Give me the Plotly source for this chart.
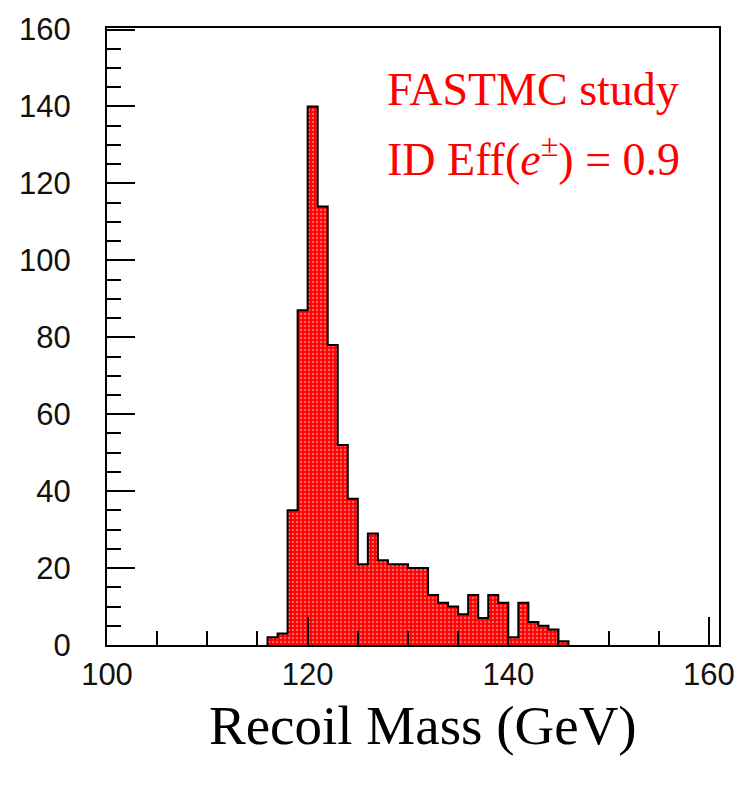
import plotly.graph_objects as go

# Histogram data (1 GeV bins), left bin edges and counts
bin_left = [116, 117, 118, 119, 120, 121, 122, 123, 124, 125, 126, 127, 128, 129, 130,
            131, 132, 133, 134, 135, 136, 137, 138, 139, 140, 141, 142, 143, 144, 145]
counts = [2, 3, 35, 87, 140, 114, 78, 52, 38, 21, 29, 22, 21, 21, 20,
          20, 13, 11, 10, 8, 13, 7, 13, 11, 2, 11, 6, 5, 4, 1]
bin_width = 1.0

x_ticks = [100, 120, 140, 160]
y_ticks = [0, 20, 40, 60, 80, 100, 120, 140, 160]

title_text = "Recoil Mass (GeV)"
note1 = "FASTMC study"
note2 = "ID Eff(<i>e</i><sup>±</sup>) = 0.9"

centers = [b + bin_width / 2 for b in bin_left]

fig = go.Figure()
fig.add_trace(go.Bar(
    x=centers, y=counts, width=bin_width,
    marker=dict(color="#ff0000", line=dict(width=0),
                pattern=dict(shape=".", fgcolor="#ffc4c4", size=4, solidity=0.3)),
    hoverinfo="skip", showlegend=False,
))

# step outline
xs = [bin_left[0]] + bin_left + [bin_left[-1] + bin_width]
ys = [0] + counts + [0]
fig.add_trace(go.Scatter(
    x=xs, y=ys, mode="lines", line=dict(color="black", width=2, shape="hv"),
    hoverinfo="skip", showlegend=False,
))

tickfont = dict(family="Liberation Sans, Arial, sans-serif", size=31, color="#111111")
serif = "Liberation Serif, Times New Roman, serif"

fig.update_layout(
    width=747, height=788,
    margin=dict(l=107, r=22, t=26, b=143),
    plot_bgcolor="white", paper_bgcolor="white",
    bargap=0,
    xaxis=dict(range=[100, 161], tickvals=x_ticks, ticks="inside", ticklen=28, tickwidth=2,
               tickcolor="black", showline=True, linecolor="black", linewidth=2, mirror=True,
               showgrid=False, zeroline=False, tickfont=tickfont, ticklabelstandoff=1,
               minor=dict(dtick=5, tick0=100, ticks="inside", ticklen=14, tickwidth=2, tickcolor="black", showgrid=False)),
    yaxis=dict(range=[0, 160.4], tickvals=y_ticks, ticks="inside", ticklen=28, tickwidth=2,
               tickcolor="black", showline=True, linecolor="black", linewidth=2, mirror=True,
               showgrid=False, zeroline=False, tickfont=tickfont, ticklabelstandoff=28,
               minor=dict(dtick=5, tick0=0, ticks="inside", ticklen=14, tickwidth=2, tickcolor="black", showgrid=False)),
    annotations=[
        dict(text=title_text, xref="paper", yref="paper", x=0.516, y=0, xanchor="center",
             yanchor="middle", yshift=-80, showarrow=False,
             font=dict(family=serif, size=55, color="black")),
        dict(text=note1, xref="x", yref="y", x=127.7, y=144.3, xanchor="left", yanchor="middle",
             showarrow=False,
             font=dict(family=serif, size=46, color="#ff0000")),
        dict(text=note2, xref="x", yref="y", x=127.7, y=127.0, xanchor="left", yanchor="middle",
             showarrow=False,
             font=dict(family=serif, size=46, color="#ff0000")),
    ],
)

fig.write_html("out.html")
